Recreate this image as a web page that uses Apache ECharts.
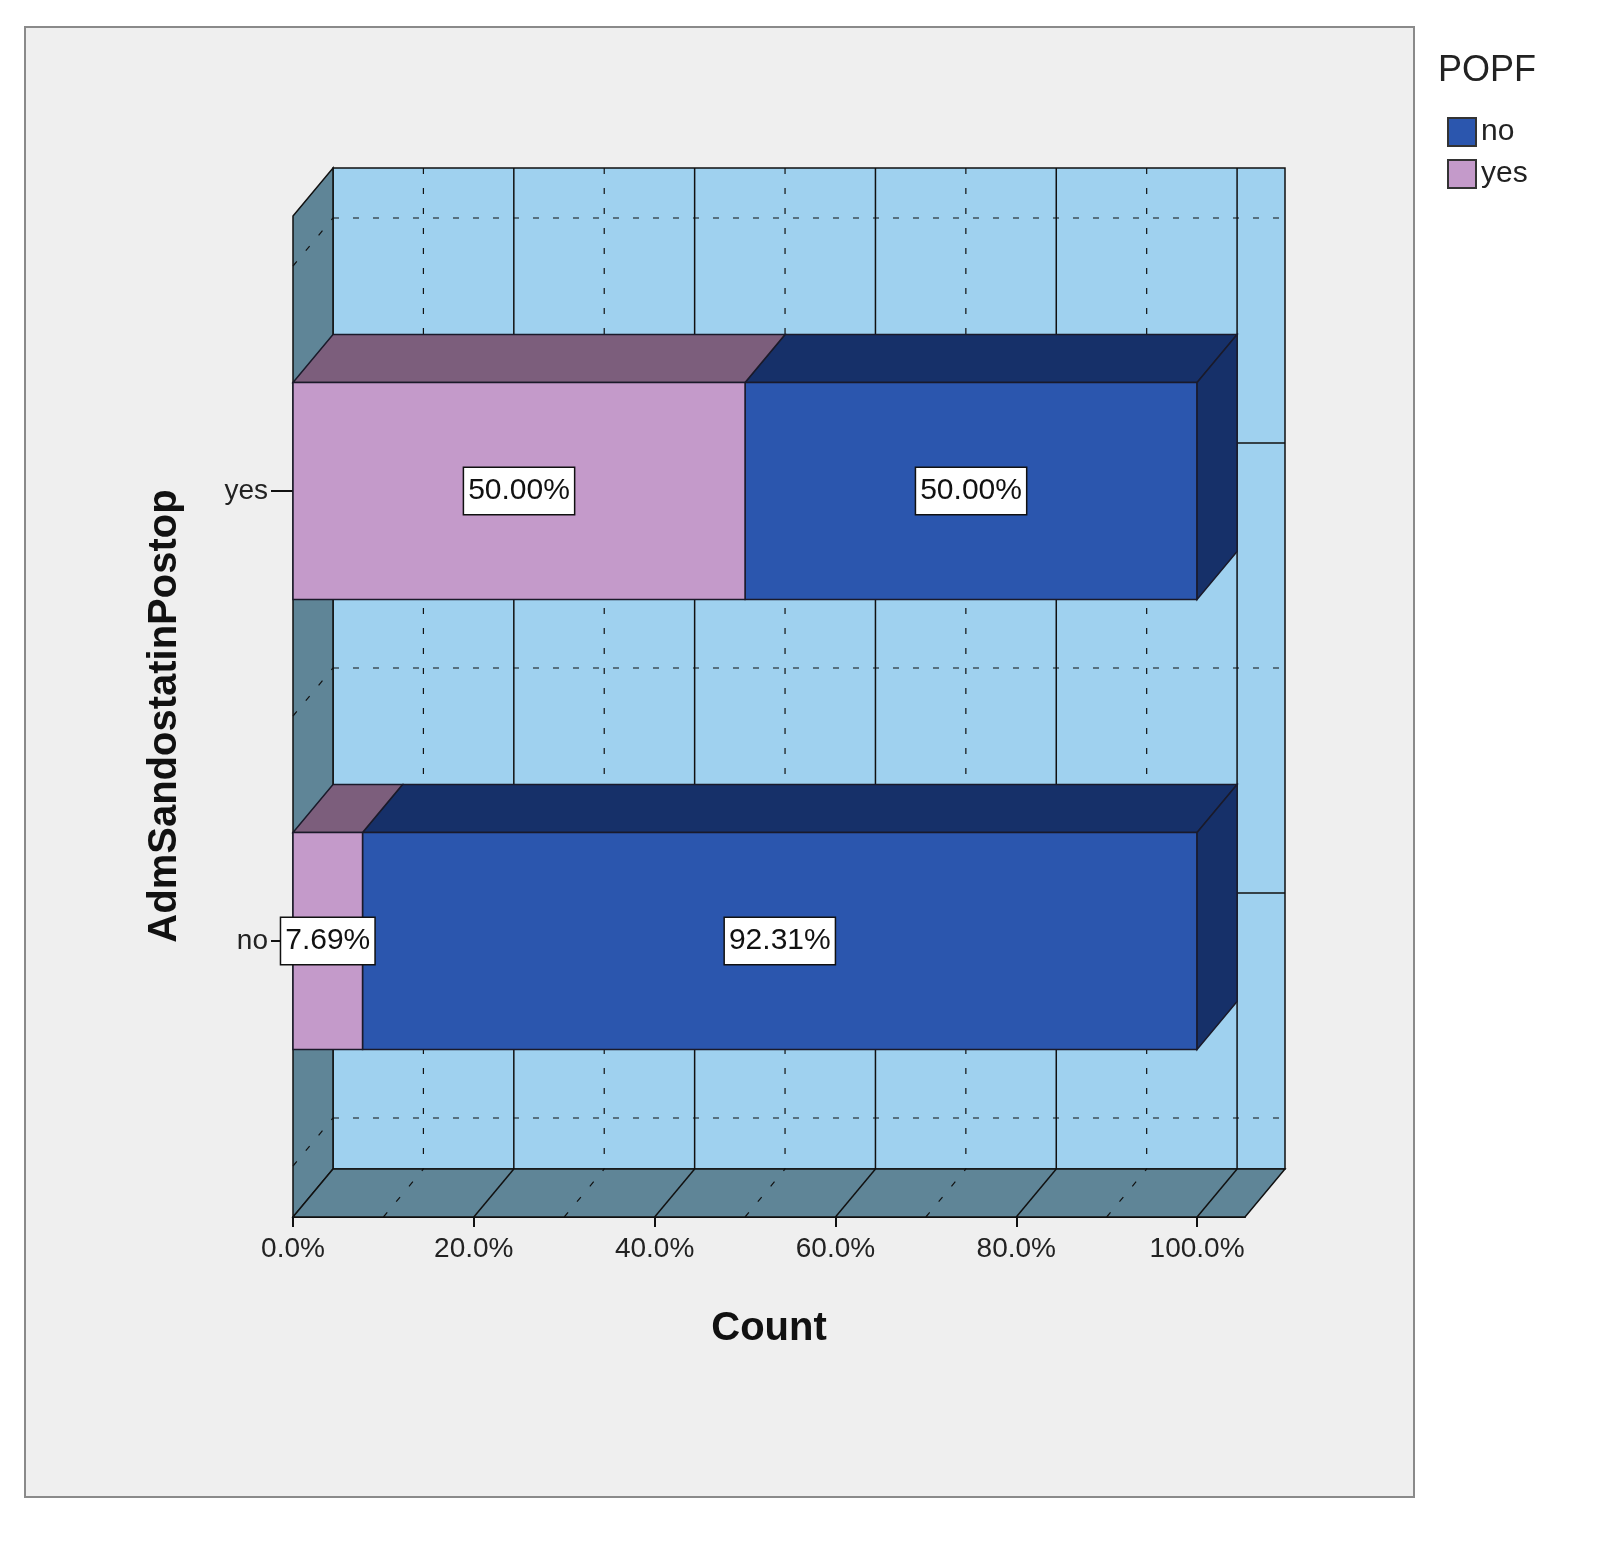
<!DOCTYPE html>
<html><head><meta charset="utf-8">
<script src="https://cdn.jsdelivr.net/npm/echarts@6/dist/echarts.min.js"></script>
<style>html,body{margin:0;background:#fff;overflow:hidden}#c{width:1610px;height:1564px;display:block}</style>
</head><body><div id="c"></div>
<script>
var categories = ['no', 'yes'];
var yesPct = [7.69, 50.00];
var noPct = [92.31, 50.00];
var xTicks = [0, 20, 40, 60, 80, 100];
var xMax = 105.3;

var DX = 40, DY = -48, HALF = 108.5;
var font = '"Liberation Sans", Arial, sans-serif';

function segData(vals, starts) {
  return vals.map(function(v, i) { return [v, categories[i], starts[i]]; });
}

function barItem(front, top, side) {
  return function(params, api) {
    var c = api.coord([api.value(2), api.value(1)]);
    var e = api.coord([api.value(2) + api.value(0), api.value(1)]);
    var x0 = c[0], x1 = e[0], yt = c[1] - HALF, yb = c[1] + HALF;
    var ln = { stroke: '#1a1a2a', lineWidth: 1.5 };
    var kids = [
      { type: 'polygon', shape: { points: [[x0, yt], [x1, yt], [x1 + DX, yt + DY], [x0 + DX, yt + DY]] }, style: Object.assign({ fill: top }, ln) },
      { type: 'rect', shape: { x: x0, y: yt, width: x1 - x0, height: yb - yt }, style: Object.assign({ fill: front }, ln) }
    ];
    if (side) {
      kids.push({ type: 'polygon', shape: { points: [[x1, yt], [x1 + DX, yt + DY], [x1 + DX, yb + DY], [x1, yb]] }, style: Object.assign({ fill: side }, ln) });
    }
    kids.push({ type: 'text', z2: 10, style: {
      text: api.value(0).toFixed(2) + '%', x: (x0 + x1) / 2, y: c[1], align: 'center', verticalAlign: 'middle',
      font: '30px ' + font, fill: '#111', backgroundColor: '#fff', borderColor: '#111', borderWidth: 1.5, padding: [9, 4, 7, 4]
    } });
    return { type: 'group', children: kids };
  };
}

function frameItem(params, api) {
  var yes = api.coord([0, 'yes']), no = api.coord([0, 'no']);
  var band = no[1] - yes[1];
  var L = yes[0], R = api.coord([xMax, 'no'])[0];
  var top = yes[1] - band * 0.5 - 50, bot = no[1] + band * 0.5 + 51;
  var wall = { stroke: '#111', lineWidth: 1.5 };
  var kids = [];
  kids.push({ type: 'rect', shape: { x: L + DX, y: top + DY, width: R - L, height: bot - top }, style: Object.assign({ fill: '#9fd1ef' }, wall) });
  kids.push({ type: 'polygon', shape: { points: [[L, top], [L + DX, top + DY], [L + DX, bot + DY], [L, bot]] }, style: Object.assign({ fill: '#5f8597' }, wall) });
  kids.push({ type: 'polygon', shape: { points: [[L, bot], [R, bot], [R + DX, bot + DY], [L + DX, bot + DY]] }, style: Object.assign({ fill: '#5f8597' }, wall) });
  // vertical gridlines on back wall and floor
  for (var v = 10; v <= 100; v += 10) {
    var x = api.coord([v, 'no'])[0];
    var solid = v % 20 === 0;
    var st = { stroke: '#111', lineWidth: solid ? 1.5 : 1.2, lineDash: solid ? null : [6, 14] };
    kids.push({ type: 'line', shape: { x1: x + DX, y1: top + DY, x2: x + DX, y2: bot + DY }, style: st });
    kids.push({ type: 'line', shape: { x1: x, y1: bot, x2: x + DX, y2: bot + DY }, style: st });
  }
  // horizontal gridlines: dashed band edges, solid at category centres
  [yes[1] - band / 2, yes[1] + band / 2, no[1] + band / 2].forEach(function(y) {
    kids.push({ type: 'line', shape: { x1: L + DX, y1: y + DY, x2: R + DX, y2: y + DY }, style: { stroke: '#111', lineWidth: 1.2, lineDash: [6, 14] } });
    kids.push({ type: 'line', shape: { x1: L, y1: y, x2: L + DX, y2: y + DY }, style: { stroke: '#111', lineWidth: 1.2, lineDash: [6, 14] } });
  });
  [yes[1], no[1]].forEach(function(y) {
    kids.push({ type: 'line', shape: { x1: L + DX, y1: y + DY, x2: R + DX, y2: y + DY }, style: { stroke: '#111', lineWidth: 1.5 } });
  });
  return { type: 'group', children: kids };
}

var chart = echarts.init(document.getElementById('c'), null, { renderer: 'canvas' });
chart.setOption({
  animation: false,
  backgroundColor: '#fff',
  graphic: [{ type: 'rect', z: -10, shape: { x: 25, y: 27, width: 1389, height: 1470 }, style: { fill: '#efefef', stroke: '#8a8a8a', lineWidth: 2 } }],
  title: { text: 'POPF', left: 1433, top: 48, textStyle: { fontFamily: font, fontSize: 36, fontWeight: 'normal', color: '#222' } },
  legend: {
    data: ['no', 'yes'], orient: 'vertical', left: 1442, top: 112, itemWidth: 28, itemHeight: 28, itemGap: 12,
    icon: 'rect', textStyle: { fontFamily: font, fontSize: 30, color: '#222' }
  },
  grid: { left: 293, right: 365, top: 266, bottom: 398 },
  xAxis: {
    type: 'value', min: 0, max: xMax, interval: 20, offset: 51,
    name: 'Count', nameLocation: 'middle', nameGap: 92,
    nameTextStyle: { fontFamily: font, fontSize: 40, fontWeight: 'bold', color: '#111' },
    axisLine: { show: true, lineStyle: { color: '#111', width: 2 } },
    axisTick: { show: true, length: 10, lineStyle: { color: '#111', width: 2 } },
    axisLabel: { showMaxLabel: false, margin: 18, fontFamily: font, fontSize: 28, color: '#222',
      formatter: function(v) { return xTicks.indexOf(v) >= 0 ? v.toFixed(1) + '%' : ''; } },
    splitLine: { show: false }
  },
  yAxis: {
    type: 'category', data: categories,
    name: 'AdmSandostatinPostop', nameLocation: 'middle', nameGap: 108,
    nameTextStyle: { fontFamily: font, fontSize: 40, fontWeight: 'bold', color: '#111' },
    axisLine: { show: false },
    axisTick: { show: true, alignWithLabel: true, length: 22, lineStyle: { color: '#111', width: 2 } },
    axisLabel: { margin: 25, fontFamily: font, fontSize: 28, color: '#222' }
  },
  series: [
    { type: 'custom', name: 'frame', z: 1, silent: true, renderItem: frameItem, data: [[0, 'no', 0]], encode: { x: 0, y: 1 } },
    { type: 'custom', name: 'yes', z: 3, itemStyle: { color: '#c49aca', borderColor: '#333', borderWidth: 1.5 },
      renderItem: barItem('#c49aca', '#7c5e7c', null),
      data: segData(yesPct, yesPct.map(function() { return 0; })), encode: { x: 0, y: 1 } },
    { type: 'custom', name: 'no', z: 2, itemStyle: { color: '#2b56ae', borderColor: '#333', borderWidth: 1.5 },
      renderItem: barItem('#2b56ae', '#163069', '#163069'),
      data: segData(noPct, yesPct), encode: { x: 0, y: 1 } }
  ]
});
</script></body></html>
